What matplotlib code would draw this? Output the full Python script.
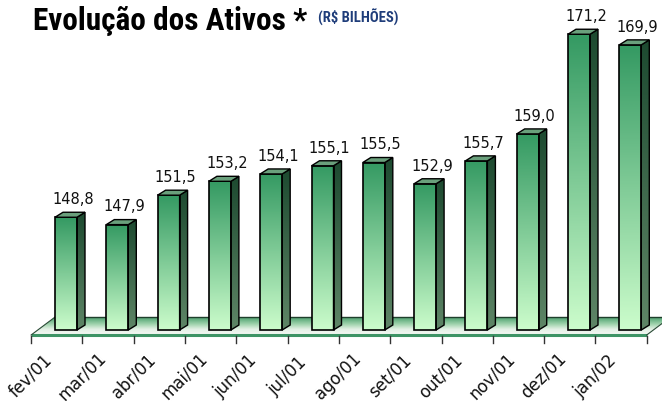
import numpy as np
import matplotlib
matplotlib.use("Agg")
import matplotlib.pyplot as plt
from matplotlib.patches import Polygon
from matplotlib.colors import LinearSegmentedColormap

# dados do grafico
meses = ["fev/01", "mar/01", "abr/01", "mai/01", "jun/01", "jul/01",
         "ago/01", "set/01", "out/01", "nov/01", "dez/01", "jan/02"]
ativos = [148.8, 147.9, 151.5, 153.2, 154.1, 155.1, 155.5, 152.9, 155.7, 159.0, 171.2, 169.9]
rotulos = ["148,8", "147,9", "151,5", "153,2", "154,1", "155,1",
           "155,5", "152,9", "155,7", "159,0", "171,2", "169,9"]
base = 135.0

# escala em pixels (para converter tamanhos fixos)
px_x = 51.3   # pixels por categoria
px_y = 8.17   # pixels por unidade

meia_larg = 11 / px_x
prof_x = 8 / px_x
prof_y = 5 / px_y

fonte_titulo = ["Roboto Condensed", "DejaVu Sans Condensed", "Open Sans Condensed",
                "Liberation Sans Narrow", "Liberation Sans"]

fig = plt.figure(figsize=(6.62, 4.02), dpi=100)
ax = fig.add_axes([0, 0, 1, 1])
ax.axis("off")


def gradiente(poly, cor_topo, cor_base, y0, y1, x0, x1, z):
    cmap = LinearSegmentedColormap.from_list("g", [cor_base, cor_topo])
    grad = np.linspace(1, 0, 64).reshape(-1, 1)
    im = ax.imshow(grad, cmap=cmap, extent=[x0, x1, y0, y1], aspect="auto",
                   origin="upper", zorder=z, interpolation="bilinear")
    im.set_clip_path(poly)


# piso
n = len(meses)
y_frente = base - 5 / px_y
y_fundo = base + 13 / px_y
xe = -0.68
xd = n - 0.68
desloc = 24 / px_x
piso = Polygon([(xe, y_frente), (xd, y_frente), (xd + desloc, y_fundo), (xe + desloc, y_fundo)],
               closed=True, facecolor="none", edgecolor="none", zorder=1)
ax.add_patch(piso)
cmap_piso = LinearSegmentedColormap.from_list(
    "piso", [(0, "#f4f8f4"), (0.3, "#e4f1e6"), (0.55, "#a6d6b2"), (0.8, "#6cb486"), (1.0, "#4a9c6c")])
grad = np.linspace(1, 0, 64).reshape(-1, 1)
im = ax.imshow(grad, cmap=cmap_piso, extent=[xe, xd + desloc, y_frente, y_fundo],
               aspect="auto", origin="upper", zorder=1, interpolation="bilinear")
im.set_clip_path(piso)
ax.plot([xe, xd], [y_frente, y_frente], color="#3e9466", lw=2.2, zorder=2, solid_capstyle="butt")
ax.plot([xe, xe + desloc], [y_frente, y_fundo], color="#2a4a36", lw=0.8, zorder=2)
ax.plot([xd, xd + desloc], [y_frente, y_fundo], color="#2a4a36", lw=0.8, zorder=2)
ax.plot([xe + desloc, xd + desloc], [y_fundo, y_fundo], color="#1f3f2c", lw=1.0, zorder=2)

# marcas do eixo
for k in range(n + 1):
    ax.plot([k - 0.68, k - 0.68], [y_frente - 1 / px_y, y_frente - 8 / px_y],
            color="#333333", lw=1, zorder=2)

# barras 3D
for i, v in enumerate(ativos):
    x0, x1 = i - meia_larg, i + meia_larg
    z = 3 + i
    frente = Polygon([(x0, base), (x1, base), (x1, v), (x0, v)], closed=True,
                     facecolor="none", edgecolor="black", lw=1.2, zorder=z + 0.5)
    ax.add_patch(frente)
    gradiente(frente, "#359a63", "#cbfccb", base, v, x0, x1, z)

    lado = Polygon([(x1, base), (x1 + prof_x, base + prof_y), (x1 + prof_x, v + prof_y), (x1, v)],
                   closed=True, facecolor="none", edgecolor="black", lw=1.0, zorder=z + 0.5)
    ax.add_patch(lado)
    gradiente(lado, "#1d4a30", "#5e8566", base, v + prof_y, x1, x1 + prof_x, z)

    topo = Polygon([(x0, v), (x1, v), (x1 + prof_x, v + prof_y), (x0 + prof_x, v + prof_y)],
                   closed=True, facecolor="#6aa07c", edgecolor="black", lw=1.0, zorder=z + 0.6)
    ax.add_patch(topo)

    ax.annotate(rotulos[i], (i, v), xytext=(5, 13.5), textcoords="offset points",
                ha="center", va="center", fontsize=10.5,
                family=["DejaVu Sans"], color="#111111", zorder=30)

# rotulos dos meses (centrados nas marcas)
for i, m in enumerate(meses):
    ax.text(i - 0.69, base - 45 / px_y, m, rotation=45, rotation_mode="anchor",
            ha="center", va="center", fontsize=12, family=["DejaVu Sans"],
            color="#111111")

ax.set_xlim(-66 / px_x, (662 - 66) / px_x)
ax.set_ylim(base - 71 / px_y, base + 331 / px_y)

# titulo
fig.text(0.05, 0.925, "Evolução dos Ativos *", fontsize=22.5, fontweight="bold",
         family=fonte_titulo, fontstretch="condensed", va="baseline", ha="left")
fig.text(0.481, 0.943, r"(R\$ BILHÕES)", fontsize=10.5, fontweight="bold", color="#1f3d7a",
         family=fonte_titulo, fontstretch="condensed", va="baseline", ha="left")

fig.savefig("out.png", dpi=100)
